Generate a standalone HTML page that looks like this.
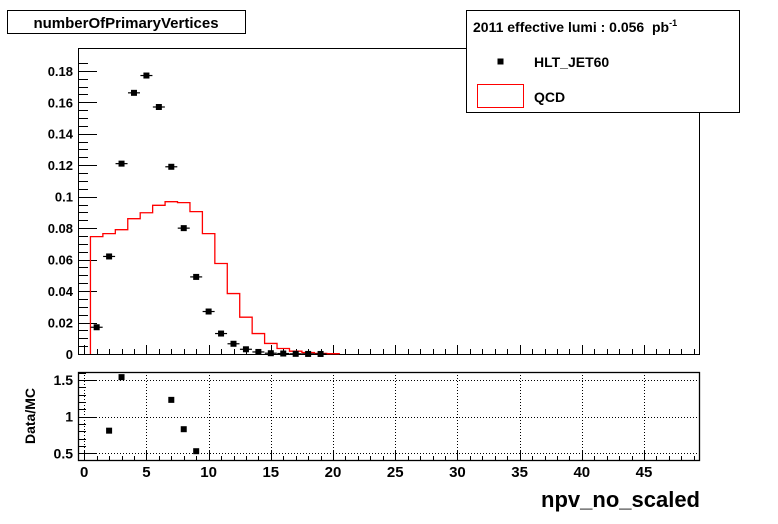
<!DOCTYPE html>
<html><head><meta charset="utf-8"><style>
body{margin:0;background:#fff;width:778px;height:524px;overflow:hidden}
svg{display:block;font-family:"Liberation Sans",Arial,sans-serif;font-weight:bold}
</style></head><body>
<svg id="c" width="778" height="524" viewBox="0 0 778 524">
<rect x="0" y="0" width="778" height="524" fill="#fff"/>
<g>
<rect x="7.5" y="10.5" width="238" height="23" fill="#fff" stroke="#000"/>
<text x="126" y="28" font-size="15" text-anchor="middle">numberOfPrimaryVertices</text>
</g>
<g id="main"></g>
<g id="ratio"></g>
<g>
<rect x="466.5" y="10.5" width="273" height="102" fill="#fff" stroke="#000"/>
<text x="473" y="32" font-size="14" xml:space="preserve">2011 effective lumi : 0.056  pb<tspan dy="-6" font-size="9">-1</tspan></text>
<rect x="497.5" y="58.5" width="6" height="6" fill="#000"/>
<text x="534" y="67" font-size="14">HLT_JET60</text>
<rect x="477.5" y="84.5" width="46" height="23" fill="none" stroke="#f00"/>
<text x="534" y="102" font-size="14">QCD</text>
</g>
<text x="700" y="507" font-size="22" text-anchor="end">npv_no_scaled</text>
<text transform="translate(35,416) rotate(-90)" font-size="14" text-anchor="middle">Data/MC</text>
</svg>
<script>
const dataX=[1,2,3,4,5,6,7,8,9,10,11,12,13,14,15,16,17,18,19];
const dataY=[0.017,0.062,0.121,0.166,0.177,0.157,0.119,0.080,0.049,0.027,0.013,0.0065,0.003,0.0013,0.0005,0.0003,0.0001,0.00005,0.00002];
const qcdEdges=[0.5,1.5,2.5,3.5,4.5,5.5,6.5,7.5,8.5,9.5,10.5,11.5,12.5,13.5,14.5,15.5,16.5,17.5,18.5,19.5,20.5];
const qcdY=[0.0746,0.0765,0.079,0.086,0.0898,0.0945,0.0968,0.0962,0.0905,0.0765,0.0575,0.0384,0.0234,0.013,0.0067,0.0035,0.0018,0.0009,0.0004,0.0002];
const ratioX=[2,3,7,8,9];
const ratioY=[0.81,1.54,1.23,0.83,0.53];
const mainYTicks=[0,0.02,0.04,0.06,0.08,0.1,0.12,0.14,0.16,0.18];
const mainYLabels=["0","0.02","0.04","0.06","0.08","0.1","0.12","0.14","0.16","0.18"];
const xTicks=[0,5,10,15,20,25,30,35,40,45];
const ratioYTicks=[0.5,1,1.5];
const ratioYLabels=["0.5","1","1.5"];

const NS="http://www.w3.org/2000/svg";
const X0=78,X1=700,XMIN=-0.5,XMAX=49.5;
const sx=v=>X0+(v-XMIN)/(XMAX-XMIN)*(X1-X0);
const MT=48,MB=354,YMAX=0.1945;
const sy=v=>MB-v/YMAX*(MB-MT);
const RT=372,RB=460,RMIN=0.41,RMAX=1.61;
const ry=v=>RB-(v-RMIN)/(RMAX-RMIN)*(RB-RT);
function mk(p,t,a,name){const e=document.createElementNS(NS,t);for(const k in a)e.setAttribute(k,a[k]);


p.appendChild(e);return e;}
const main=document.getElementById('main'),ratio=document.getElementById('ratio');
mk(main,'rect',{x:X0+.5,y:MT+.5,width:X1-X0-1,height:MB-MT,fill:'none',stroke:'#000'},'main-frame');
for(let v=0;v<=0.19;v+=0.005){const y=Math.round(sy(v))+.5;const maj=Math.abs(v/0.02-Math.round(v/0.02))<1e-6;
mk(main,'line',{x1:X0,x2:X0+(maj?19:10),y1:y,y2:y,stroke:'#000'},'y-tick');}
mainYTicks.forEach((v,i)=>{const t=mk(main,'text',{x:X0-5,y:sy(v)+5,'font-size':13,'text-anchor':'end'},'y-tick-label');t.textContent=mainYLabels[i];});
for(let v=0;v<=49;v++){const x=Math.round(sx(v))+.5;const maj=v%5==0;
mk(main,'line',{x1:x,x2:x,y1:MB,y2:MB-(maj?9:5),stroke:'#000'},'x-tick');
mk(ratio,'line',{x1:x,x2:x,y1:RB,y2:RB-(maj?9:4),stroke:'#000'},'ratio-x-tick');}
let d='M'+sx(qcdEdges[0])+' '+sy(0);
qcdY.forEach((v,i)=>{d+=' L'+sx(qcdEdges[i])+' '+sy(v)+' L'+sx(qcdEdges[i+1])+' '+sy(v);});
d+=' L'+sx(qcdEdges[qcdEdges.length-1])+' '+sy(0);
mk(main,'path',{d:d,fill:'none',stroke:'#f00','stroke-width':1.3},'qcd-histogram');
dataX.forEach((xv,i)=>{const x=sx(xv),y=sy(dataY[i]);
mk(main,'line',{x1:x-6,x2:x+6,y1:y,y2:y,stroke:'#000','stroke-width':1.2},'data-xerr');
mk(main,'rect',{x:x-3,y:y-3,width:6,height:6,fill:'#000'},'data-point');});
mk(ratio,'rect',{x:X0+.5,y:RT+.5,width:X1-X0-1,height:RB-RT,fill:'none',stroke:'#000','stroke-width':1.3},'ratio-frame');
xTicks.forEach(v=>{const x=Math.round(sx(v))+.5;
mk(ratio,'line',{x1:x,x2:x,y1:RT,y2:RB,stroke:'#000','stroke-dasharray':'1,2'},'ratio-grid-x');
const t=mk(ratio,'text',{x:sx(v),y:RB+17,'font-size':15,'text-anchor':'middle'},'x-tick-label');t.textContent=v;});
for(let k=5;k<=16;k++){const v=k/10;const y=Math.round(ry(v))+.5;const maj=k%5==0;
mk(ratio,'line',{x1:X0,x2:X0+(maj?19:8),y1:y,y2:y,stroke:'#000'},'ratio-y-tick');}
ratioYTicks.forEach((v,i)=>{const y=Math.round(ry(v))+.5;
mk(ratio,'line',{x1:X0,x2:X1,y1:y,y2:y,stroke:'#000','stroke-dasharray':'1,2'},'ratio-grid-y');
const t=mk(ratio,'text',{x:X0-5,y:ry(v)+5,'font-size':14,'text-anchor':'end'},'ratio-y-tick-label');t.textContent=ratioYLabels[i];});
ratioX.forEach((xv,i)=>{const x=sx(xv),y=ry(ratioY[i]);
mk(ratio,'rect',{x:x-3,y:y-3,width:6,height:6,fill:'#000'},'ratio-point');});
</script>
</body></html>
